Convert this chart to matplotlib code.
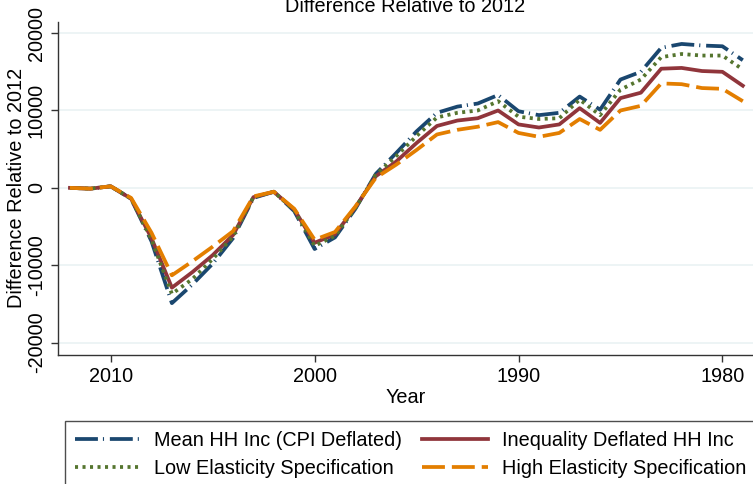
import numpy as np
import matplotlib
matplotlib.use("Agg")
import matplotlib.pyplot as plt

plt.rcParams['font.family'] = ['Liberation Sans', 'DejaVu Sans']
plt.rcParams['lines.scale_dashes'] = False

years = list(range(2012, 1978, -1))

mean_cpi = [0, -100, 200, -1400, -6900, -14900, -12500, -9800, -6500, -1300,
            -500, -3000, -7900, -6400, -2700, 1800, 4500, 7300, 9700, 10500,
            10900, 12000, 9900, 9400, 9700, 11800, 10100, 14000, 15000, 18100,
            18600, 18400, 18300, 16500]
inequality = [0, -100, 200, -1400, -6500, -12900, -10900, -8700, -6100, -1200,
              -500, -2800, -7100, -6000, -2500, 1500, 3400, 5800, 8000, 8700,
              9000, 10000, 8200, 7800, 8200, 10300, 8400, 11600, 12300, 15400,
              15500, 15100, 15000, 13200]
low_elast = [0, -100, 200, -1400, -6700, -13700, -11800, -9200, -6300, -1200,
             -500, -2900, -7500, -6200, -2600, 1700, 4100, 6700, 9100, 9700,
             10000, 11200, 9200, 8900, 9000, 11400, 9400, 12700, 14000, 16900,
             17300, 17100, 17100, 15300]
high_elast = [0, -100, 200, -1300, -5800, -11300, -9500, -7600, -5600, -1100,
              -500, -2700, -6700, -5700, -2400, 1300, 3000, 4900, 6900, 7500,
              7900, 8500, 7100, 6600, 7100, 8900, 7500, 10000, 10600, 13500,
              13400, 12900, 12800, 11200]

labels = ['Mean HH Inc (CPI Deflated)', 'Inequality Deflated HH Inc',
          'Low Elasticity Specification', 'High Elasticity Specification']
xticks = [2010, 2000, 1990, 1980]
yticks = [-20000, -10000, 0, 10000, 20000]

fs = 14.3
lw = 2.7

fig = plt.figure(figsize=(7.53, 4.84), dpi=100)
ax = fig.add_axes([57.7 / 753, 1 - 355 / 484, (753 - 57.7) / 753, (355 - 21.7) / 484])

l1, = ax.plot(years, mean_cpi, color='#1a476f', lw=lw, dashes=(16.5, 3.6, 0.8, 4.2))
l2, = ax.plot(years, inequality, color='#90353b', lw=lw)
l3, = ax.plot(years, low_elast, color='#55752f', lw=lw, dashes=(2.2, 3.2))
l4, = ax.plot(years, high_elast, color='#e37e00', lw=lw, dashes=(16.5, 5))

ax.set_xlim(2012.6, 1978.5)
ax.set_ylim(-21600, 21475)
ax.set_xticks(xticks)
ax.set_yticks(yticks)
ax.set_yticklabels([str(v) for v in yticks], rotation=90, va='center')
ax.tick_params(labelsize=fs, length=5, width=1, color='#333333', pad=3.5)
ax.grid(axis='y', color='#eaf2f3', lw=1.2)
ax.set_axisbelow(True)
for s in ['top', 'right']:
    ax.spines[s].set_visible(False)
for s in ['left', 'bottom']:
    ax.spines[s].set_color('#333333')
    ax.spines[s].set_linewidth(1.0)

ax.set_ylabel('Difference Relative to 2012', fontsize=fs)
ax.yaxis.set_label_coords(-0.045, 0.5)
ax.set_xlabel('Year', fontsize=fs)
ax.xaxis.set_label_coords(0.5, -0.1)

fig.text(405 / 753, 1 - 11.7 / 484, 'Difference Relative to 2012', fontsize=fs,
         ha='center', va='baseline')

leg = fig.legend([l1, l3, l2, l4], [labels[0], labels[2], labels[1], labels[3]],
                 ncol=2, loc='upper left', bbox_to_anchor=(65 / 753, 1 - 420.7 / 484),
                 borderaxespad=0, fontsize=fs, frameon=True, fancybox=False,
                 edgecolor='#222222', handlelength=3.3, handletextpad=0.7,
                 columnspacing=1.0, labelspacing=0.48, borderpad=0.5)
leg.get_frame().set_linewidth(1.0)

fig.savefig('out.png', dpi=100)
